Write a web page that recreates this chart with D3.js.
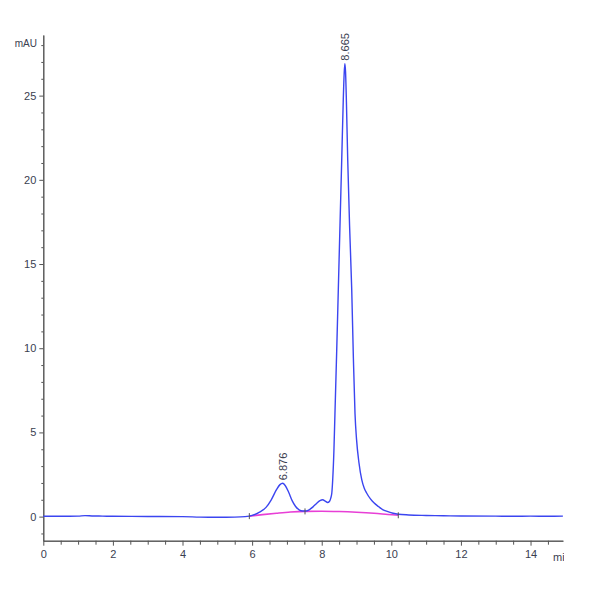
<!DOCTYPE html>
<html>
<head>
<meta charset="utf-8">
<script src="https://cdn.jsdelivr.net/npm/d3@7"></script>
<style>
  body { margin: 0; background: #fff; }
  text { font-family: "Liberation Sans Narrow", "Liberation Sans", Arial, sans-serif; fill: #3a4050; }
  .axis path, .axis line { stroke: #555; }
</style>
</head>
<body>
<div id="viz"></div>
<script>
// signal (mAU) vs retention time (min)
var times = [0, 0.5, 1.0, 1.2, 1.4, 1.7, 2, 3, 4, 4.5, 5, 5.5, 5.8, 6.0, 6.2, 6.4, 6.55, 6.7, 6.8, 6.876,
  6.95, 7.05, 7.15, 7.25, 7.35, 7.45, 7.55, 7.65, 7.75, 7.85, 7.95, 8.03, 8.1, 8.17, 8.22, 8.26, 8.29,
  8.316, 8.35, 8.38, 8.43, 8.477, 8.53, 8.575, 8.62, 8.645, 8.665, 8.685, 8.71, 8.747, 8.80, 8.862,
  8.91, 8.957, 9.0, 9.07, 9.15, 9.22, 9.29, 9.4, 9.5, 9.63, 9.75, 9.9, 10.05, 10.2, 10.5, 11, 11.5,
  12, 13, 13.5, 14, 14.5, 14.93];
var signal = [0.02, 0.02, 0.03, 0.06, 0.04, 0.03, 0.02, 0.01, 0.0, -0.03, -0.04, -0.03, 0.0, 0.07, 0.25, 0.55, 1.0, 1.6, 1.9, 1.98,
  1.85, 1.45, 0.95, 0.6, 0.4, 0.33, 0.33, 0.42, 0.58, 0.78, 0.95, 1.0, 0.92, 0.84, 0.9, 1.1, 1.4,
  2.2, 3.9, 6.1, 9.8, 13.5, 17.7, 21.2, 24.8, 26.3, 26.9, 26.4, 24.6, 21.2, 17.3, 13.5,
  9.4, 6.1, 4.6, 3.2, 2.2, 1.7, 1.4, 1.05, 0.82, 0.6, 0.42, 0.3, 0.2, 0.14, 0.1, 0.07, 0.05,
  0.04, 0.03, 0.02, 0.03, 0.02, 0.03];

// integration baseline
var baseTimes = [5.92, 6.3, 6.7, 7.1, 7.52, 8.0, 8.5, 9.0, 9.5, 9.9, 10.2];
var baseValues = [0.03, 0.12, 0.2, 0.27, 0.31, 0.32, 0.3, 0.26, 0.2, 0.13, 0.08];
var baseMarks = [5.92, 7.52, 10.2];

// peak labels
var peakTimes = [6.876, 8.665];
var peakHeights = [1.98, 26.9];
var peakLabels = ['6.876', '8.665'];

var xTicks = [0, 2, 4, 6, 8, 10, 12, 14];
var yTicks = [0, 5, 10, 15, 20, 25];

var svg = d3.select('#viz').append('svg')
  .attr('width', 600)
  .attr('height', 600);

var x = d3.scaleLinear().domain([0, 14.93]).range([43.3, 562.9]);
var y = d3.scaleLinear().domain([-1.43, 28.6]).range([540.7, 35]);

svg.append('defs').append('clipPath').attr('id', 'clip')
  .append('rect').attr('x', 0).attr('y', 0).attr('width', 564).attr('height', 600);

// x axis: minor ticks every 0.5, major every 2
var minorX = d3.range(0, 15, 0.5).filter(function(d) { return d % 2 != 0; });
svg.append('g')
  .attr('class', 'axis')
  .attr('transform', 'translate(0,' + y(-1.43) + ')')
  .call(d3.axisBottom(x).tickValues(minorX).tickSize(4).tickSizeOuter(0).tickFormat(''));
var xAxis = svg.append('g')
  .attr('class', 'axis')
  .attr('transform', 'translate(0,' + y(-1.43) + ')')
  .call(d3.axisBottom(x).tickValues(xTicks).tickSize(5).tickSizeOuter(0).tickPadding(5));
xAxis.selectAll('text').attr('font-size', 11).style('fill', '#3a4050');

svg.append('text')
  .attr('x', 553).attr('y', 561)
  .attr('font-size', 11)
  .attr('clip-path', 'url(#clip)')
  .text('min');

// y axis: minor ticks every 1, major every 5
var minorY = d3.range(-1, 29, 1).filter(function(d) { return d % 5 != 0; });
svg.append('g')
  .attr('class', 'axis')
  .attr('transform', 'translate(' + x(0) + ',0)')
  .call(d3.axisLeft(y).tickValues(minorY).tickSize(2).tickSizeOuter(0).tickFormat(''));
var yAxis = svg.append('g')
  .attr('class', 'axis')
  .attr('transform', 'translate(' + x(0) + ',0)')
  .call(d3.axisLeft(y).tickValues(yTicks).tickSize(4).tickSizeOuter(0).tickPadding(3));
yAxis.selectAll('text').attr('font-size', 11).style('fill', '#3a4050');
svg.selectAll('.axis .domain').attr('stroke', '#555');

svg.append('text')
  .attr('x', 37).attr('y', 47)
  .attr('text-anchor', 'end')
  .attr('font-size', 10)
  .text('mAU');

// baseline
var baseLine = d3.line()
  .x(function(d, i) { return x(baseTimes[i]); })
  .y(function(d) { return y(d); })
  .curve(d3.curveMonotoneX);
svg.append('path')
  .datum(baseValues)
  .attr('d', baseLine)
  .attr('fill', 'none')
  .attr('stroke', '#e83fd6')
  .attr('stroke-width', 1.6);

// chromatogram
var sigLine = d3.line()
  .x(function(d, i) { return x(times[i]); })
  .y(function(d) { return y(d); })
  .curve(d3.curveMonotoneX);
svg.append('path')
  .datum(signal)
  .attr('d', sigLine)
  .attr('fill', 'none')
  .attr('stroke', '#3b45f0')
  .attr('stroke-width', 1.4)
  .attr('stroke-linejoin', 'round');

// linear lookup on the baseline, for placing the marks
function interp(t) {
  for (var i = 0; i < baseTimes.length - 1; i++) {
    if (t >= baseTimes[i] && t <= baseTimes[i + 1]) {
      var f = (t - baseTimes[i]) / (baseTimes[i + 1] - baseTimes[i]);
      return baseValues[i] + f * (baseValues[i + 1] - baseValues[i]);
    }
  }
  return baseValues[baseValues.length - 1];
}

// baseline start / valley / end marks
svg.selectAll('.bmark')
  .data(baseMarks)
  .enter()
  .append('line')
  .attr('class', 'bmark')
  .attr('x1', function(d) { return x(d); })
  .attr('x2', function(d) { return x(d); })
  .attr('y1', function(d) { return y(interp(d)) - 3; })
  .attr('y2', function(d) { return y(interp(d)) + 3; })
  .attr('stroke', '#555')
  .attr('stroke-width', 1);

// peak retention time labels
svg.selectAll('.plabel')
  .data(peakLabels)
  .enter()
  .append('text')
  .attr('class', 'plabel')
  .attr('font-size', 11)
  .attr('text-anchor', 'start')
  .attr('transform', function(d, i) {
    return 'translate(' + (x(peakTimes[i]) + 4) + ',' + (y(peakHeights[i]) - 3) + ') rotate(-90)';
  })
  .text(function(d) { return d; });
</script>
</body>
</html>
